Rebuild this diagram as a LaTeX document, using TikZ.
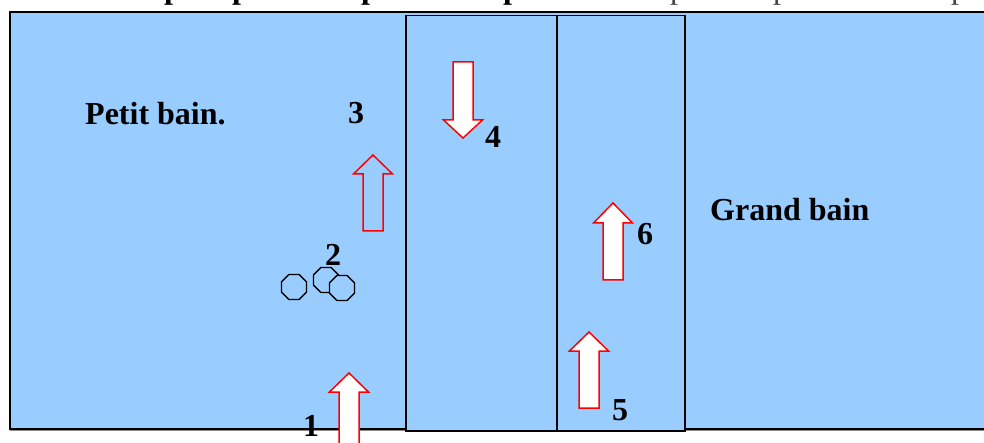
\documentclass[tikz,border=0pt]{standalone}
\usepackage{fontspec}
\setmainfont{Liberation Serif}
\usetikzlibrary{shapes.geometric}
\definecolor{pool}{HTML}{99CCFF}
\definecolor{arrowred}{HTML}{FF0000}
\tikzset{
  lbl/.style={font=\fontsize{32}{37}\selectfont\bfseries, inner sep=0pt, anchor=base west},
  toptxt/.style={font=\fontsize{32}{37}\selectfont\bfseries, inner sep=0pt, anchor=base west},
  toptxtn/.style={font=\fontsize{32}{37}\selectfont, inner sep=0pt, anchor=base west, text=black!75},
  lane/.style={draw=black, line width=1.4pt},
  buoy/.style={regular polygon, regular polygon sides=8, minimum size=27pt, inner sep=0pt,
               draw=black, line width=1.3pt, fill=pool},
  hollowarrow/.style={draw=arrowred, line width=1.5pt, line join=miter},
  whitearrow/.style={hollowarrow, fill=white},
}
% block arrow: style, centre x, tip y, head-base y, tail y
\newcommand\blockarrow[5]{%
  \draw[#1] (#2,#3) -- (#2+19.5,#4) -- (#2+10,#4) -- (#2+10,#5)
    -- (#2-10,#5) -- (#2-10,#4) -- (#2-19.5,#4) -- cycle;}
\begin{document}
\begin{tikzpicture}[x=1pt, y=-1pt]
  \useasboundingbox (0,0) rectangle (984,443);
  \clip (0,0) rectangle (984,443);
  \fill[white] (0,0) rectangle (984,443);

  % heading line above the pool (only its descenders show)
  \node[toptxt]  (p1) at (164,-1) {p};
  \node[toptxt]  (p2) at (232,-1) {p};
  \node[toptxt]  (p3) at (361,-1) {p};
  \node[toptxt]  (p4) at (503,-1) {p};
  \node[toptxtn] (p5) at (670,-1) {p};
  \node[toptxtn] (p6) at (773,-1) {p};
  \node[toptxtn] (p7) at (951,-1) {p};

  % pool
  \draw[black!45, line width=1pt] (10,430.5) -- (990,430.5);
  \fill[pool] (9.5,12.5) rectangle (995,429);
  \draw[line width=2pt] (995,12.5) -- (9.5,12.5) -- (9.5,429) -- (995,429);

  % lanes
  \fill[pool] (406,15.5) rectangle (685,431);
  \draw[lane] (406,15.5) rectangle (685,431);
  \draw[lane] (557,15.5) -- (557,431);

  % buoys
  \node[buoy] (b1) at (294,287) {};
  \node[buoy] (b2) at (326,280) {};
  \node[buoy] (b3) at (342,288) {};

  % arrows
  \blockarrow{whitearrow}{349}{373}{392}{455}
  \blockarrow{hollowarrow}{373}{155}{174}{231}
  \blockarrow{whitearrow}{463}{138}{120}{62}
  \blockarrow{whitearrow}{613}{203}{223}{280}
  \blockarrow{whitearrow}{589}{332}{351}{408}

  % labels
  \node[lbl] (petit) at (85,125) {Petit bain.};
  \node[lbl] (grand) at (710,221) {Grand bain};
  \node[lbl] (n1) at (303,436) {1};
  \node[lbl] (n2) at (325,266) {2};
  \node[lbl] (n3) at (348,124) {3};
  \node[lbl] (n4) at (485,148) {4};
  \node[lbl] (n5) at (612,420) {5};
  \node[lbl] (n6) at (637,245) {6};
\end{tikzpicture}
\end{document}
